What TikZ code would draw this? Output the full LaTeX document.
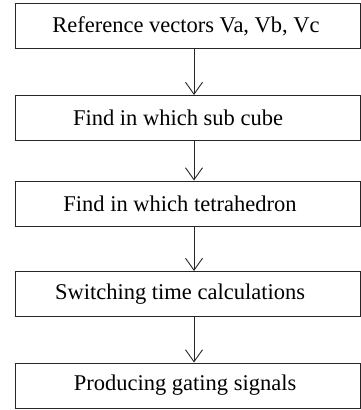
\documentclass[tikz,border=0pt]{standalone}
\usepackage{fontspec}
\setmainfont{Liberation Serif}
\usetikzlibrary{arrows.meta}
\begin{document}
\begin{tikzpicture}[x=1pt,y=-1pt,
  box/.style={draw=black!85, line width=1pt, minimum width=345pt, minimum height=45pt, inner sep=0pt},
  txt/.style={font=\fontsize{22.5}{26}\selectfont, inner sep=0pt},
  arr/.style={draw=black!85, line width=0.9pt, -{Straight Barb[length=12pt,width=17pt,line width=0.9pt]}}]
\useasboundingbox (0,0) rectangle (361,410);
\node[box, label={[txt, xshift=-1.5pt]center:Reference vectors Va, Vb, Vc}] (b1) at (187.5,26) {};
\node[box, label={[txt, xshift=-9.5pt]center:Find in which sub cube}] (b2) at (187.5,118) {};
\node[box, label={[txt, xshift=-7.5pt]center:Find in which tetrahedron}] (b3) at (187.5,203.5) {};
\node[box, label={[txt, xshift=-7.5pt]center:Switching time calculations}] (b4) at (187.5,294) {};
\node[box, label={[txt, xshift=-2.5pt]center:Producing gating signals}] (b5) at (187.5,385.5) {};
\coordinate (ax) at (194,0);
\draw[arr] (b1.south -| ax) -- (b2.north -| ax);
\draw[arr] (b2.south -| ax) -- (b3.north -| ax);
\draw[arr] (b3.south -| ax) -- (b4.north -| ax);
\draw[arr] (b4.south -| ax) -- (b5.north -| ax);
\end{tikzpicture}
\end{document}
